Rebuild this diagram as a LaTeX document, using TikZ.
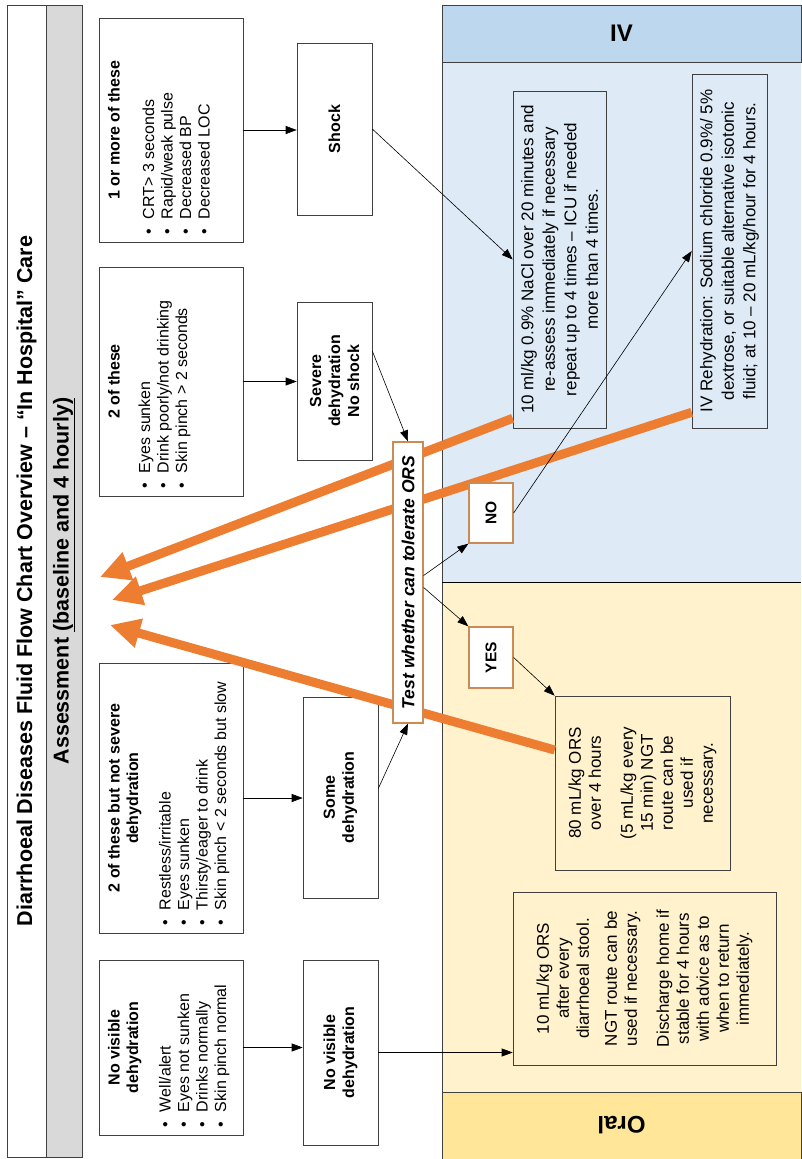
\documentclass[tikz,border=0pt]{standalone}
\usepackage{fontspec}
\setmainfont{Liberation Sans}
\usepackage{xcolor}
\definecolor{BoxLine}{HTML}{404040}
\definecolor{HeadGray}{HTML}{D9D9D9}
\definecolor{IVBody}{HTML}{DEEBF7}
\definecolor{IVHead}{HTML}{BDD7EE}
\definecolor{OralBody}{HTML}{FFF2CC}
\definecolor{OralHead}{HTML}{FFE699}
\definecolor{ReturnOrange}{HTML}{ED7D31}
\definecolor{ChoiceOrange}{HTML}{CC8A55}
\usetikzlibrary{arrows.meta, calc}

\newcommand{\fsz}[2]{\fontsize{#1}{#2}\selectfont}
\newcommand{\boxbody}[3]{\parbox[c][#2][t]{#1}{\vspace*{9pt}#3}}
\newcommand{\itm}[1]{\par\hspace*{8pt}\makebox[15pt][l]{\textbullet}#1}

\begin{document}
\begin{tikzpicture}[
  x=1pt, y=-1pt,
  % Grundstile
  titlebar/.style={
    draw=BoxLine,
    fill=#1,
    line width=0.8pt,
    rotate=90,
    inner sep=0pt,
    minimum width=1152pt,
    font=\fsz{21.5}{26}\bfseries
  },
  titlebar/.default=white,
  assessbox/.style={
    draw=BoxLine,
    fill=white,
    line width=0.6pt,
    rotate=90,
    inner sep=0pt,
    font=\fsz{16}{18.5}
  },
  statebox/.style={
    draw=BoxLine,
    fill=white,
    line width=0.6pt,
    rotate=90,
    align=center,
    font=\fsz{16}{19}\bfseries
  },
  treatbox/.style={
    draw=BoxLine,
    line width=0.6pt,
    rotate=90,
    align=center,
    font=\fsz{17}{20}
  },
  choicebox/.style={
    draw=ChoiceOrange,
    fill=white,
    line width=1.3pt,
    rotate=90,
    inner sep=0pt,
    font=\fsz{15.5}{18}\bfseries
  },
  headstrip/.style={
    draw=BoxLine,
    fill=#1,
    line width=0.6pt,
    inner sep=0pt,
    font=\fsz{24}{28}\bfseries
  },
  flowarrow/.style={
    draw=black,
    line width=0.6pt,
    -{Triangle[length=11pt, width=8pt]}
  },
  backarrow/.style={
    draw=ReturnOrange,
    line width=9pt,
    -{Triangle[length=30pt, width=28pt]}
  }
]

% =============================================================================
% HINTERGRUND
% =============================================================================
\useasboundingbox (0,0) rectangle (801,1159);
\fill[white] (0,0) rectangle (801,1159);

% Behandlungsbereiche IV / Oral
\fill[IVBody] (442,5) rectangle (801,582);
\fill[OralBody] (442,582) rectangle (801,1159);
\node[headstrip=IVHead, minimum width=359pt, minimum height=57pt] (ivhead) at (621.5,33.5) {IV};
\node[headstrip=OralHead, rotate=180, minimum width=359pt, minimum height=67pt] (oralhead) at (621.5,1125.5) {Oral};
\draw[BoxLine, line width=0.8pt] (801,5) -- (442,5) -- (442,1159);
\draw[black, line width=1pt] (442,582) -- (801,582);

% =============================================================================
% KOPFZEILEN
% =============================================================================
\node[titlebar, minimum height=39pt] (title) at (26.5,581) {Diarrhoeal Diseases Fluid Flow Chart Overview – “In Hospital” Care};
\node[titlebar=HeadGray, minimum height=36pt] (assess) at (64,581) {Assessment \underline{(baseline and 4 hourly)}};

% =============================================================================
% BEURTEILUNG
% =============================================================================
\node[assessbox] (shockcrit) at (171,130) {\boxbody{224pt}{144pt}{%
  {\centering\bfseries 1 or more of these\par}\vspace{16pt}
  \itm{CRT> 3 seconds}\itm{Rapid/weak pulse}\itm{Decreased BP}\itm{Decreased LOC}}};
\node[assessbox] (severecrit) at (171,381.5) {\boxbody{229pt}{144pt}{%
  {\centering\bfseries 2 of these\par}\vspace{12pt}
  \itm{Eyes sunken}\itm{Drink poorly/not drinking}\itm{Skin pinch > 2 seconds}}};
\node[assessbox] (somecrit) at (171,798) {\boxbody{270pt}{144pt}{%
  {\centering\bfseries 2 of these but not severe\\dehydration\par}\vspace{14pt}
  \itm{Restless/irritable}\itm{Eyes sunken}\itm{Thirsty/eager to drink}\itm{Skin pinch < 2 seconds but slow}}};
\node[assessbox] (nonecrit) at (171,1047.5) {\boxbody{175pt}{144pt}{%
  {\centering\bfseries No visible\\dehydration\par}\vspace{14pt}
  \itm{Well/alert}\itm{Eyes not sunken}\itm{Drinks normally}\itm{Skin pinch normal}}};

% Einstufung
\node[statebox, minimum width=172pt, minimum height=75pt] (shock) at (334.5,129) {Shock};
\node[statebox, minimum width=158pt, minimum height=75pt] (severe) at (334.5,381) {Severe\\dehydration\\No shock};
\node[statebox, minimum width=201pt, minimum height=75pt] (some) at (340.5,797.5) {Some\\dehydration};
\node[statebox, minimum width=185pt, minimum height=75pt] (nonevis) at (340.5,1052.5) {No visible\\dehydration};

% =============================================================================
% BEHANDLUNG
% =============================================================================
\node[treatbox, minimum width=337pt, minimum height=93pt, font=\fsz{17}{21.5}] (nacl) at (559.5,259.5) {10 ml/kg 0.9\% NaCl over 20 minutes and\\re-assess immediately if necessary\\repeat up to 4 times – ICU if needed\\more than 4 times.};
\node[treatbox, minimum width=354pt, minimum height=75pt, font=\fsz{17}{21.5}] (ivfluid) at (729.5,251) {IV Rehydration: Sodium chloride 0.9\%/ 5\%\\dextrose, or suitable alternative isotonic\\fluid; at 10 – 20 mL/kg/hour for 4 hours.};
\node[treatbox, minimum width=174pt, minimum height=175pt] (ors80) at (642.5,783) {80 mL/kg ORS\\over 4 hours\\[12pt](5 mL/kg every\\15 min) NGT\\route can be\\used if\\necessary.};
\node[treatbox, minimum width=173pt, minimum height=263pt] (ors10) at (644.5,978.5) {10 mL/kg ORS\\after every\\diarrhoeal stool.\\[8pt]NGT route can be\\used if necessary.\\[12pt]Discharge home if\\stable for 4 hours\\with advice as to\\when to return\\immediately.};

% Rueckpfeile zur Beurteilung
\coordinate (back1) at (100,577);
\coordinate (back2) at (112,600);
\coordinate (back3) at (110,625);
\draw[backarrow] ([yshift=10pt]nacl.north west) -- (back1);
\draw[backarrow] ([yshift=16pt]ivfluid.north west) -- (back2);
\draw[backarrow] ([yshift=33pt]ors80.north) -- (back3);

% ORS-Test
\node[choicebox, minimum width=281pt, minimum height=30pt, font=\fsz{17.5}{20}\bfseries\itshape] (tolerate) at (408,582.5) {Test whether can tolerate ORS};
\node[choicebox, minimum width=60pt, minimum height=44pt] (no) at (491,513) {NO};
\node[choicebox, minimum width=61pt, minimum height=44pt] (yes) at (491,657.5) {YES};

% =============================================================================
% VERBINDUNGEN
% =============================================================================
\draw[flowarrow] (shockcrit.south) -- (shockcrit.south -| shock.north);
\draw[flowarrow] (severecrit.south) -- (severecrit.south -| severe.north);
\draw[flowarrow] (somecrit.south) -- (somecrit.south -| some.north);
\draw[flowarrow] (nonecrit.south) -- (nonecrit.south -| nonevis.north);
\draw[flowarrow] (shock.south) -- (nacl.north);
\draw[flowarrow] ([yshift=30pt]severe.south) -- (tolerate.east);
\draw[flowarrow] ([yshift=9pt]some.south) -- (tolerate.west);
\draw[flowarrow] (nonevis.south) -- (nonevis.south -| ors10.north);
\draw[flowarrow] ([yshift=7pt]tolerate.south) -- (no.north west);
\draw[flowarrow] ([yshift=-5pt]tolerate.south) -- (yes.north east);
\draw[flowarrow] (no.south) -- (ivfluid.north);
\draw[flowarrow] (yes.south) -- (ors80.north east);

\end{tikzpicture}
\end{document}
